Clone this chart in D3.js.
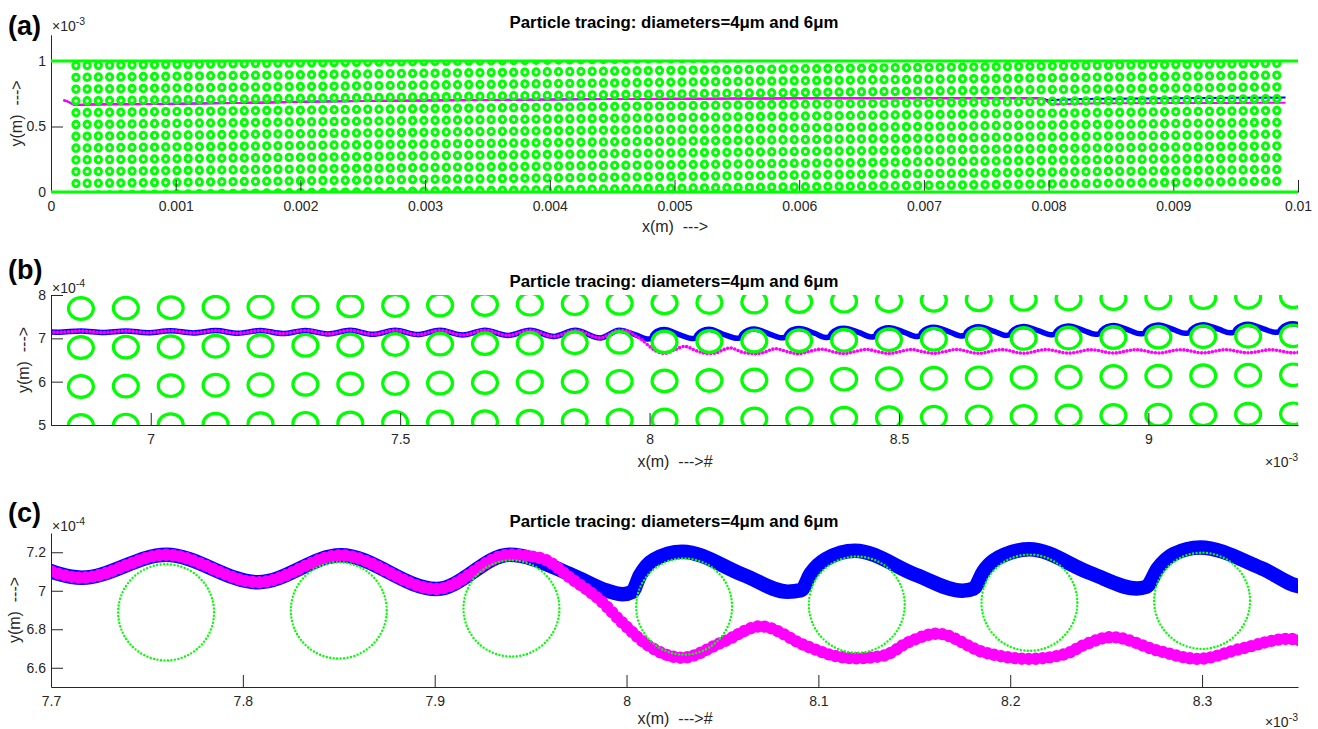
<!DOCTYPE html>
<html>
<head>
<meta charset="utf-8">
<title>Particle tracing</title>
<script src="https://d3js.org/d3.v7.min.js"></script>
<style>
  body { margin: 0; background: #fff; }
  text { font-family: "Liberation Sans", Arial, Helvetica, sans-serif; white-space: pre; }
</style>
</head>
<body>
<svg width="1318" height="729"></svg>
<script>
// ---- data (x in 1e-3 m) ----
const titleText = 'Particle tracing: diameters=4\u03bcm and 6\u03bcm';

// pillar lattice (mm): tilted array, 1 um shift per column
const pillarX0 = 0.2, pillarPitch = 0.09, pillarCount = 108;
const pillarY0 = 0.0648, pillarRowShift = 0.001, pillarRadius = 0.025;
const wallY = [0, 1];            // channel walls, x1e-3 m

// panel (a) trajectories, y in 1e-3 m
const trajACommon = [[0.10,0.700],[0.14,0.688],[0.19,0.665],[0.30,0.667],[0.60,0.670],[1.0,0.674],[1.5,0.680],
  [2.0,0.688],[2.5,0.694],[3.0,0.699],[3.5,0.703],[4.0,0.706],[4.5,0.709],[5.0,0.711],[5.5,0.713],
  [6.0,0.715],[6.5,0.716],[7.0,0.716],[7.5,0.715],[7.94,0.716]];
const trajABlue = [[8.0,0.702],[8.2,0.708],[8.5,0.712],[9.0,0.716],[9.5,0.719],[9.9,0.721]];
const trajAMagenta = [[8.03,0.670],[8.2,0.674],[8.5,0.677],[9.0,0.679],[9.5,0.680],[9.9,0.681]];

// panels (b),(c) trajectories, y in 1e-4 m
const trajCommon = [[6.77,7.150],
  [6.815,7.142],[6.86,7.168],[6.905,7.136],[6.95,7.172],[6.995,7.130],[7.04,7.176],
  [7.085,7.124],[7.13,7.178],[7.175,7.117],[7.22,7.180],[7.265,7.110],[7.31,7.182],
  [7.355,7.102],[7.40,7.184],[7.445,7.094],[7.49,7.185],[7.535,7.086],[7.58,7.186],
  [7.625,7.077],[7.67,7.187],[7.716,7.068],[7.76,7.187],[7.808,7.044],[7.851,7.184],
  [7.901,7.009],[7.939,7.187]];
const trajBlue = [[7.972,7.080],[7.990,7.000],[7.998,6.982],[8.003,6.995],[8.007,7.080],[8.014,7.160],[8.029,7.203],
  [8.061,7.082],[8.084,6.995],[8.091,7.003],[8.096,7.090],[8.104,7.165],[8.119,7.208],
  [8.151,7.082],[8.175,7.000],[8.181,7.012],[8.186,7.100],[8.197,7.187],[8.210,7.215],
  [8.242,7.091],[8.266,7.012],[8.271,7.021],[8.277,7.117],[8.285,7.190],[8.299,7.225],
  [8.331,7.117],[8.353,7.020],[8.360,7.030],[8.365,7.120],[8.376,7.205],[8.390,7.235],
  [8.421,7.130],[8.444,7.032],[8.451,7.042],[8.456,7.130],[8.467,7.215],[8.480,7.245],
  [8.511,7.140],[8.534,7.044],[8.541,7.054],[8.546,7.140],[8.557,7.225],[8.570,7.255],
  [8.601,7.150],[8.624,7.056],[8.631,7.066],[8.636,7.150],[8.647,7.235],[8.660,7.265],
  [8.691,7.160],[8.714,7.068],[8.721,7.078],[8.726,7.160],[8.737,7.245],[8.750,7.275],
  [8.781,7.170],[8.804,7.080],[8.811,7.090],[8.816,7.170],[8.827,7.255],[8.840,7.285],
  [8.871,7.180],[8.894,7.092],[8.901,7.102],[8.906,7.180],[8.917,7.265],[8.930,7.295],
  [8.961,7.190],[8.984,7.104],[8.991,7.114],[8.996,7.190],[9.007,7.275],[9.020,7.305],
  [9.051,7.200],[9.074,7.116],[9.081,7.126],[9.086,7.200],[9.097,7.285],[9.110,7.315],
  [9.141,7.210],[9.164,7.128],[9.171,7.138],[9.176,7.210],[9.187,7.295],[9.200,7.325],
  [9.231,7.220],[9.254,7.140],[9.261,7.150],[9.266,7.220],[9.277,7.305],[9.290,7.335],[9.32,7.230]];
const trajMagenta = [[7.955,7.170],[7.972,7.057],[7.986,6.953],[7.998,6.832],[8.012,6.711],[8.029,6.652],
  [8.050,6.733],[8.070,6.815],[8.093,6.716],[8.108,6.663],[8.119,6.649],[8.134,6.663],[8.147,6.733],
  [8.162,6.777],[8.186,6.681],[8.210,6.646],[8.229,6.672],[8.238,6.716],[8.253,6.759],[8.277,6.689],
  [8.298,6.646],[8.320,6.698],[8.345,6.750],[8.368,6.690],[8.390,6.648],[8.412,6.695],[8.435,6.746],
  [8.458,6.690],[8.480,6.650],[8.502,6.694],[8.525,6.744],[8.548,6.690],[8.570,6.652],[8.592,6.694],
  [8.615,6.742],[8.660,6.654],[8.705,6.740],[8.750,6.656],[8.795,6.740],[8.840,6.658],[8.885,6.738],
  [8.930,6.660],[8.975,6.738],[9.020,6.662],[9.065,6.737],[9.110,6.664],[9.155,6.737],[9.200,6.666],
  [9.245,6.736],[9.290,6.668],[9.32,6.720]];

// ticks
const aXTicks = [0,1,2,3,4,5,6,7,8,9,10];
const aXLabels = ['0','0.001','0.002','0.003','0.004','0.005','0.006','0.007','0.008','0.009','0.01'];
const aYTicks = [0, 0.5, 1], aYLabels = ['0','0.5','1'];
const bXTicks = [7, 7.5, 8, 8.5, 9], bXLabels = ['7','7.5','8','8.5','9'];
const bYTicks = [5, 6, 7, 8], bYLabels = ['5','6','7','8'];
const cXTicks = [7.7, 7.8, 7.9, 8, 8.1, 8.2, 8.3], cXLabels = ['7.7','7.8','7.9','8','8.1','8.2','8.3'];
const cYTicks = [6.6, 6.8, 7, 7.2], cYLabels = ['6.6','6.8','7','7.2'];

// ---- drawing ----
const svg = d3.select('svg');
const AXIS = '#262626', GREEN = '#00ff00', BLUE = '#0000ff', MAGENTA = '#ff00ff';

const pillars = [];
d3.range(pillarCount).forEach(i => {
  d3.range(-1, 13).forEach(j => {
    const cy = pillarY0 + i * pillarRowShift + j * pillarPitch;
    if (cy > -pillarRadius && cy < 1 + pillarRadius)
      pillars.push({cx: pillarX0 + i * pillarPitch, cy: cy});
  });
});

function panel(o) {
  const x = d3.scaleLinear().domain(o.xDomain).range([o.left, o.right]);
  const y = d3.scaleLinear().domain(o.yDomain).range([o.bottom, o.top]);
  svg.append('clipPath').attr('id', 'clip-' + o.name).append('rect')
    .attr('x', o.left).attr('y', o.top).attr('width', o.right - o.left).attr('height', o.bottom - o.top);
  const plot = svg.append('g').attr('clip-path', `url(#clip-${o.name})`);
  return {x, y, plot};
}

function axes(o, x, y) {
  const xa = svg.append('g').attr('transform', `translate(0,${o.bottom})`)
    .call(d3.axisBottom(x).tickValues(o.xTicks).tickFormat((d, i) => o.xLabels[i])
      .tickSizeInner(-12).tickSizeOuter(0).tickPadding(9));
  const ya = svg.append('g').attr('transform', `translate(${o.left},0)`)
    .call(d3.axisLeft(y).tickValues(o.yTicks).tickFormat((d, i) => o.yLabels[i])
      .tickSizeInner(-12).tickSizeOuter(0).tickPadding(5));
  [xa, ya].forEach(a => {
    a.select('.domain').attr('stroke', AXIS);
    a.selectAll('.tick line').attr('stroke', AXIS);
    a.selectAll('.tick text').attr('fill', AXIS).attr('font-size', 14)
      .attr('font-family', '"Liberation Sans", Arial, sans-serif');
  });
}

function expLabel(xp, yp, e, anchor) {
  const t = svg.append('text').attr('x', xp).attr('y', yp).attr('fill', AXIS)
    .attr('font-size', 14).attr('text-anchor', anchor || 'start');
  t.append('tspan').text('\u00d710');
  t.append('tspan').attr('dy', -6).attr('font-size', 10.5).text(e);
}

function labels(o) {
  svg.append('text').attr('x', 8).attr('y', o.letterY).attr('font-size', 27)
    .attr('font-weight', 'bold').attr('fill', '#000').text(o.letter);
  svg.append('text').attr('x', 674).attr('y', o.titleY).attr('text-anchor', 'middle')
    .attr('font-size', 16.8).attr('font-weight', 'bold').attr('fill', '#000').text(titleText);
  svg.append('text').attr('x', 675).attr('y', o.xLabelY).attr('text-anchor', 'middle')
    .attr('font-size', 16).attr('fill', AXIS).text(o.xLabel);
  svg.append('text').attr('transform', `translate(${o.yLabelX},${(o.top + o.bottom) / 2}) rotate(-90)`)
    .attr('text-anchor', 'middle').attr('font-size', 16).attr('fill', AXIS).text('y(m)  --->');
}

const lineGen = (x, y) => d3.line().x(d => x(d[0])).y(d => y(d[1])).curve(d3.curveMonotoneX);

// ---------- panel (a) ----------
const A = {name: 'a', xDomain: [0, 10], yDomain: [0, 1.2], left: 51, right: 1298, top: 34.8, bottom: 192,
  xTicks: aXTicks, xLabels: aXLabels, yTicks: aYTicks, yLabels: aYLabels,
  letter: '(a)', letterY: 35, titleY: 28, xLabelY: 232, yLabelX: 22, xLabel: 'x(m)  --->'};
{
  const {x, y, plot} = panel(A);
  const ln = lineGen(x, y);
  plot.append('path').attr('d', ln(trajACommon.concat(trajABlue))).attr('fill', 'none')
    .attr('stroke', BLUE).attr('stroke-width', 2);
  plot.append('path').attr('d', ln(trajACommon.concat(trajAMagenta))).attr('fill', 'none')
    .attr('stroke', MAGENTA).attr('stroke-width', 2);
  svg.append('clipPath').attr('id', 'clip-wall').append('rect')
    .attr('x', A.left).attr('y', y(wallY[1])).attr('width', A.right - A.left).attr('height', y(wallY[0]) - y(wallY[1]));
  svg.append('g').attr('clip-path', 'url(#clip-wall)')
    .selectAll('ellipse').data(pillars).join('ellipse')
    .attr('cx', d => x(d.cx)).attr('cy', d => y(d.cy))
    .attr('rx', x(pillarRadius) - x(0)).attr('ry', y(0) - y(pillarRadius))
    .attr('fill', 'none').attr('stroke', GREEN).attr('stroke-width', 3);
  axes(A, x, y);
  svg.selectAll('line.wall').data(wallY).join('line').attr('class', 'wall')
    .attr('x1', x(0)).attr('x2', x(10)).attr('y1', d => y(d)).attr('y2', d => y(d))
    .attr('stroke', GREEN).attr('stroke-width', 3);
  labels(A);
  expLabel(52, 31, '-3');
}

// ---------- panel (b) ----------
const B = {name: 'b', xDomain: [6.8, 9.3], yDomain: [5, 8], left: 51, right: 1298, top: 295, bottom: 425,
  xTicks: bXTicks, xLabels: bXLabels, yTicks: bYTicks, yLabels: bYLabels,
  letter: '(b)', letterY: 279, titleY: 287, xLabelY: 467, yLabelX: 29, xLabel: 'x(m)  --->#'};
{
  const {x, y, plot} = panel(B);
  const ln = lineGen(x, y);
  plot.append('path').attr('d', ln(trajCommon.concat(trajBlue))).attr('fill', 'none')
    .attr('stroke', BLUE).attr('stroke-width', 5.5).attr('stroke-linejoin', 'round');
  plot.append('path').attr('d', ln(trajCommon.concat(trajMagenta))).attr('fill', 'none')
    .attr('stroke', MAGENTA).attr('stroke-width', 3.6).attr('stroke-linecap', 'round')
    .attr('stroke-dasharray', '0 3.6');
  plot.selectAll('ellipse').data(pillars.filter(d => d.cx > 6.7 && d.cx < 9.4)).join('ellipse')
    .attr('cx', d => x(d.cx)).attr('cy', d => y(d.cy * 10))
    .attr('rx', x(6.8 + pillarRadius) - x(6.8)).attr('ry', y(5) - y(5 + pillarRadius * 10))
    .attr('fill', 'none').attr('stroke', GREEN).attr('stroke-width', 3.2);
  axes(B, x, y);
  labels(B);
  expLabel(52, 293, '-4');
  expLabel(1298, 467, '-3', 'end');
}

// ---------- panel (c) ----------
const C = {name: 'c', xDomain: [7.7, 8.35], yDomain: [6.5, 7.3], left: 51, right: 1298, top: 533, bottom: 687,
  xTicks: cXTicks, xLabels: cXLabels, yTicks: cYTicks, yLabels: cYLabels,
  letter: '(c)', letterY: 522, titleY: 527, xLabelY: 724, yLabelX: 20, xLabel: 'x(m)  --->#'};
{
  const {x, y, plot} = panel(C);
  const ln = lineGen(x, y);
  plot.append('path').attr('d', ln(trajCommon.concat(trajBlue))).attr('fill', 'none')
    .attr('stroke', BLUE).attr('stroke-width', 14.5).attr('stroke-linejoin', 'round');
  plot.append('path').attr('d', ln(trajCommon.concat(trajMagenta))).attr('fill', 'none')
    .attr('stroke', MAGENTA).attr('stroke-width', 12.4).attr('stroke-linecap', 'round')
    .attr('stroke-dasharray', '0 7');
  plot.selectAll('ellipse').data(pillars.filter(d => d.cx > 7.6 && d.cx < 8.45)).join('ellipse')
    .attr('cx', d => x(d.cx)).attr('cy', d => y(d.cy * 10))
    .attr('rx', x(7.7 + pillarRadius) - x(7.7)).attr('ry', y(6.5) - y(6.5 + pillarRadius * 10))
    .attr('fill', 'none').attr('stroke', GREEN).attr('stroke-width', 2.4)
    .attr('stroke-linecap', 'round').attr('stroke-dasharray', '0 3.5');
  axes(C, x, y);
  labels(C);
  expLabel(52, 531, '-4');
  expLabel(1298, 727, '-3', 'end');
}
</script>
</body>
</html>
